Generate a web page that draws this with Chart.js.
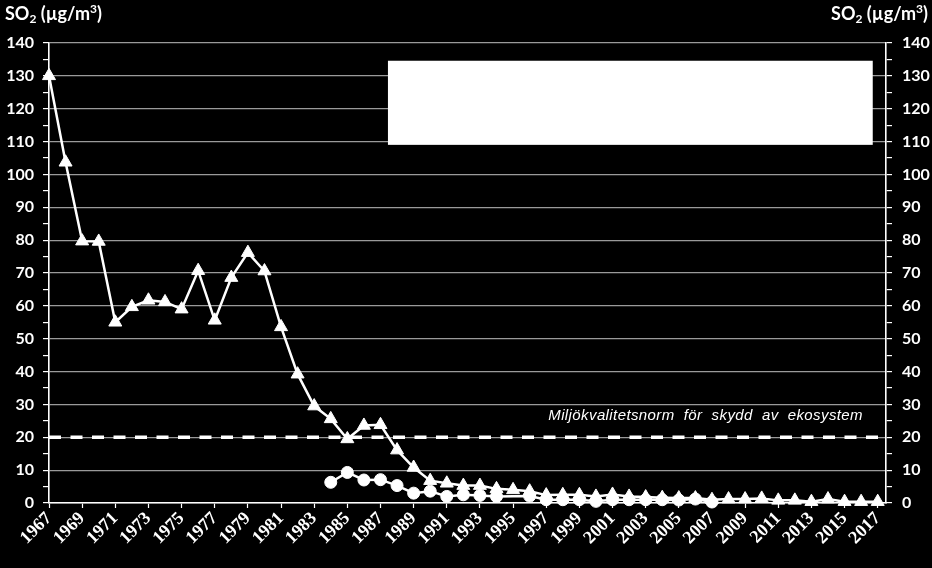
<!DOCTYPE html>
<html><head><meta charset="utf-8">
<script src="https://cdn.jsdelivr.net/npm/chart.js@4.4.1/dist/chart.umd.min.js"></script>
<style>
html,body{margin:0;padding:0;background:#000;}
#wrap{position:relative;width:932px;height:568px;background:#000;overflow:hidden;}
canvas{position:absolute;left:0;top:0;}
.ttl{position:absolute;top:2px;color:#fff;font:bold 18px Lato,'Open Sans',sans-serif;white-space:nowrap;}
.ttl sub{font-size:12px;vertical-align:-3px;line-height:0;}
.ttl sup{font-size:12px;vertical-align:7px;line-height:0;}
</style></head>
<body><div id="wrap"><canvas id="c" width="932" height="568"></canvas>
<div class="ttl" style="left:5px">SO<sub>2</sub> (µg/m<sup>3</sup>)</div>
<div class="ttl" style="right:4px">SO<sub>2</sub> (µg/m<sup>3</sup>)</div>
</div>
<script>
const years = [1967,1968,1969,1970,1971,1972,1973,1974,1975,1976,1977,1978,1979,1980,1981,1982,1983,1984,1985,1986,1987,1988,1989,1990,1991,1992,1993,1994,1995,1996,1997,1998,1999,2000,2001,2002,2003,2004,2005,2006,2007,2008,2009,2010,2011,2012,2013,2014,2015,2016,2017];
const triangleSeries = [130,103.7,79.7,79.6,55,59.7,61.7,61.2,59,70.7,55.6,68.6,76.2,70.6,53.6,39.2,29.5,25.6,19.5,23.6,23.8,16.1,10.8,6.8,6.0,5.3,5.3,4.3,4.0,3.6,2.4,2.5,2.5,2.0,2.6,2.0,1.8,1.6,1.5,1.5,1.0,1.2,1.2,1.4,0.8,0.8,0.4,1.2,0.4,0.4,0.4];
const circleYears = [1984,1985,1986,1987,1988,1989,1990,1991,1992,1993,1994,1995,1996,1997,1998,1999,2000,2001,2002,2003,2004,2005,2006,2007];
const circleSeries = [6.3,9.3,7.0,7.1,5.3,3.0,3.6,2.0,2.5,2.3,2.0,null,2.1,1.0,1.0,1.0,0.5,1.0,1.0,1.0,1.0,0.9,1.2,0.3];
const xTickLabels = [1967,1969,1971,1973,1975,1977,1979,1981,1983,1985,1987,1989,1991,1993,1995,1997,1999,2001,2003,2005,2007,2009,2011,2013,2015,2017];
const normValue = 20;
const normLabel = 'Miljökvalitetsnorm  för  skydd  av  ekosystem';

const GRID = '#9a9a9a';
const LBL_FONT = {family:'Lato, "Open Sans", sans-serif', size:16, weight:'bold'};

const boxPlugin = {
  id:'box',
  afterDatasetsDraw(chart){
    const {ctx, chartArea:a, scales:{x,y}} = chart;
    ctx.save();
    ctx.fillStyle = '#fff';
    const x0 = x.getPixelForValue(1987.45), x1 = x.getPixelForValue(2016.7);
    const y0 = y.getPixelForValue(134.6), y1 = y.getPixelForValue(109);
    ctx.fillRect(x0, y0, x1-x0, y1-y0);
    ctx.font = 'italic 15px "Liberation Sans", Arial, sans-serif';
    try { ctx.letterSpacing = '0.4px'; } catch(e) {}
    ctx.textAlign = 'right';
    ctx.textBaseline = 'alphabetic';
    ctx.fillText(normLabel, a.right - 23, y.getPixelForValue(25.2));
    ctx.restore();
  }
};

const yAxis = (pos) => ({
  type:'linear', position:pos, min:0, max:140,
  afterBuildTicks(s){ const t=[]; for(let v=0; v<=140; v+=5) t.push({value:v}); s.ticks=t; },
  afterFit(s){ s.width = pos==='left' ? 49 : 46; },
  ticks:{color:'#fff', font:LBL_FONT, padding: pos==='left'?9:10, autoSkip:false,
    callback:(v)=> v%10===0 ? String(v) : ''},
  grid:{drawOnChartArea: pos==='left', color:(c)=> (c.tick && c.tick.value%10===0) ? GRID : 'rgba(0,0,0,0)',
    tickColor:'#fff', tickLength:6, lineWidth:1.2, tickWidth:1.2},
  border:{color:'#fff', width:1.6}
});

new Chart(document.getElementById('c'), {
  type:'line',
  data:{datasets:[
    {label:'circles', data: circleYears.map((yr,i)=>({x:yr,y:circleSeries[i]})), borderColor:'#fff', backgroundColor:'#fff',
     borderWidth:2.5, pointStyle:'circle', pointRadius:6, pointBorderWidth:1, spanGaps:true, clip:false, order:0},
    {label:'triangles', data: years.map((yr,i)=>({x:yr,y:triangleSeries[i]})), borderColor:'#fff', backgroundColor:'#fff',
     borderWidth:2.5, pointStyle:'triangle', pointRadius:7.5, pointBorderWidth:1, clip:false, order:1},
    {label:'norm', data:[{x:1967,y:normValue},{x:2017.5,y:normValue}], borderColor:'#fff', borderWidth:3.4,
     borderDash:[12,9.5], pointRadius:0, clip:false, order:2}
  ]},
  options:{
    responsive:false, animation:false, devicePixelRatio:1,
    layout:{padding:{top:43,left:0,right:0,bottom:0}},
    plugins:{legend:{display:false}, tooltip:{enabled:false}},
    scales:{
      x:{type:'linear', min:1967, max:2017.5,
        afterBuildTicks(s){ s.ticks = xTickLabels.map(v=>({value:v})); },
        afterFit(s){ s.height = 65; },
        ticks:{color:'#fff', font:{family:'"Liberation Serif","Times New Roman",serif', size:18, weight:'bold'},
          minRotation:45, maxRotation:45, autoSkip:false, padding:0, callback:(v)=>String(v)},
        grid:{drawOnChartArea:false, tickColor:'#fff', tickLength:5, tickWidth:1.2},
        border:{color:'#fff', width:1.6}
      },
      y: yAxis('left'),
      y1: yAxis('right')
    }
  },
  plugins:[boxPlugin]
});
</script>
</body></html>
